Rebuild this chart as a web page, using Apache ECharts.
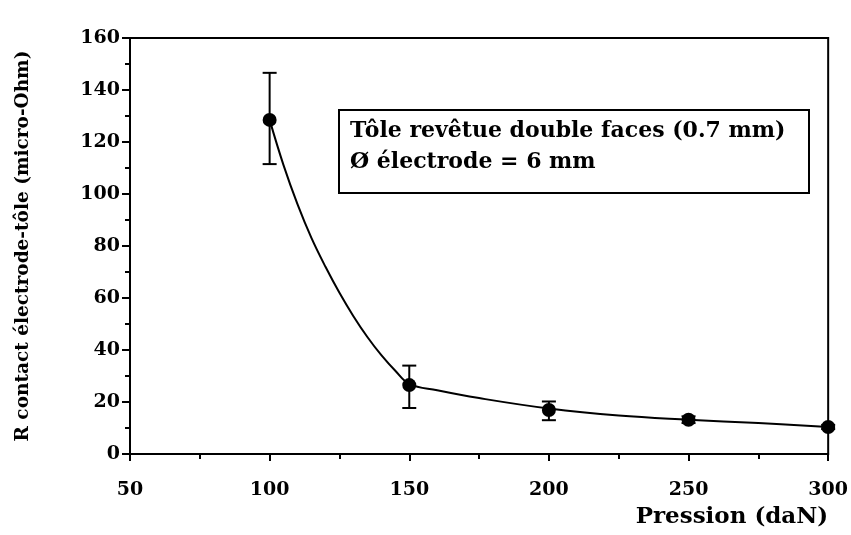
<!DOCTYPE html>
<html>
<head>
<meta charset="utf-8">
<script src="https://cdn.jsdelivr.net/npm/echarts@6/dist/echarts.min.js"></script>
<style>
  html, body { margin: 0; padding: 0; background: #fff; }
  #chart { width: 851px; height: 535px; }
</style>
</head>
<body>
<div id="chart"></div>
<script>
// measured points (pressure in daN, R in micro-Ohm)
const pressure = [100, 150, 200, 250, 300];
const resistance = [128.5, 26.5, 16.9, 13.2, 10.4];
const errLow = [111.5, 17.7, 13.0, 11.9, 9.6];
const errHigh = [146.6, 34.0, 20.2, 14.5, 11.2];

// fitted curve
const curveX = [100, 105, 110, 115, 120, 125, 130, 135, 140, 145, 150, 160, 175, 200, 225, 250, 275, 300];
const curveY = [128.5, 111, 96, 83, 72, 62, 53, 45, 38, 32, 27, 24.5, 21.5, 17.5, 14.8, 13.2, 11.9, 10.4];

const xTicks = [50, 100, 150, 200, 250, 300];
const yTicks = [0, 20, 40, 60, 80, 100, 120, 140, 160];

const font = 'DejaVu Serif';
const chart = echarts.init(document.getElementById('chart'));

const option = {
    animation: false,
    backgroundColor: '#fff',
    grid: {
        left: 130, right: 21, top: 38, bottom: 81,
        show: true, borderColor: '#000', borderWidth: 2
    },
    xAxis: {
        type: 'value',
        min: xTicks[0], max: xTicks[xTicks.length - 1], interval: 50,
        name: 'Pression (daN)',
        nameLocation: 'end',
        nameGap: 0,
        nameTextStyle: {
            fontFamily: font, fontWeight: 'bold', fontSize: 23, color: '#000',
            align: 'right', verticalAlign: 'top', padding: [52, 0, 0, 0]
        },
        axisLine: { lineStyle: { color: '#000', width: 2 } },
        axisTick: { length: 7, lineStyle: { color: '#000', width: 2 } },
        minorTick: { show: true, splitNumber: 2, length: 5, lineStyle: { color: '#000', width: 2 } },
        axisLabel: { fontFamily: font, fontWeight: 'bold', fontSize: 19, color: '#000', margin: 27 },
        splitLine: { show: false }
    },
    yAxis: {
        type: 'value',
        min: yTicks[0], max: yTicks[yTicks.length - 1], interval: 20,
        name: 'R contact électrode-tôle (micro-Ohm)',
        nameLocation: 'middle',
        nameGap: 97,
        nameTextStyle: { fontFamily: font, fontWeight: 'bold', fontSize: 18.5, color: '#000' },
        axisLine: { lineStyle: { color: '#000', width: 2 } },
        axisTick: { length: 8, lineStyle: { color: '#000', width: 2 } },
        minorTick: { show: true, splitNumber: 2, length: 5, lineStyle: { color: '#000', width: 2 } },
        axisLabel: { fontFamily: font, fontWeight: 'bold', fontSize: 19, color: '#000', margin: 10 },
        splitLine: { show: false }
    },
    graphic: [{
        type: 'group',
        left: 338, top: 109,
        children: [
            { type: 'rect', shape: { x: 0, y: 0, width: 470, height: 83 },
              style: { fill: '#fff', stroke: '#000', lineWidth: 2 } },
            { type: 'text', x: 11, y: 10,
              style: { text: 'Tôle revêtue double faces (0.7 mm)', font: 'bold 22px "DejaVu Serif"', fill: '#000' } },
            { type: 'text', x: 11, y: 41,
              style: { text: 'Ø électrode = 6 mm', font: 'bold 22px "DejaVu Serif"', fill: '#000' } }
        ]
    }],
    series: [
        {
            type: 'line',
            data: curveX.map((x, i) => [x, curveY[i]]),
            smooth: 0.4,
            showSymbol: false,
            lineStyle: { color: '#000', width: 2 },
            z: 2
        },
        {
            type: 'custom',
            data: pressure.map((x, i) => [x, errLow[i], errHigh[i]]),
            renderItem: function (params, api) {
                const lo = api.coord([api.value(0), api.value(1)]);
                const hi = api.coord([api.value(0), api.value(2)]);
                const w = 7;
                const st = { stroke: '#000', lineWidth: 2 };
                return {
                    type: 'group',
                    children: [
                        { type: 'line', shape: { x1: lo[0], y1: lo[1], x2: hi[0], y2: hi[1] }, style: st },
                        { type: 'line', shape: { x1: lo[0] - w, y1: lo[1], x2: lo[0] + w, y2: lo[1] }, style: st },
                        { type: 'line', shape: { x1: hi[0] - w, y1: hi[1], x2: hi[0] + w, y2: hi[1] }, style: st }
                    ]
                };
            },
            z: 3
        },
        {
            type: 'scatter',
            data: pressure.map((x, i) => [x, resistance[i]]),
            symbol: 'circle',
            symbolSize: 14,
            itemStyle: { color: '#000', opacity: 1 },
            z: 4
        }
    ]
};

chart.setOption(option);
</script>
</body>
</html>
